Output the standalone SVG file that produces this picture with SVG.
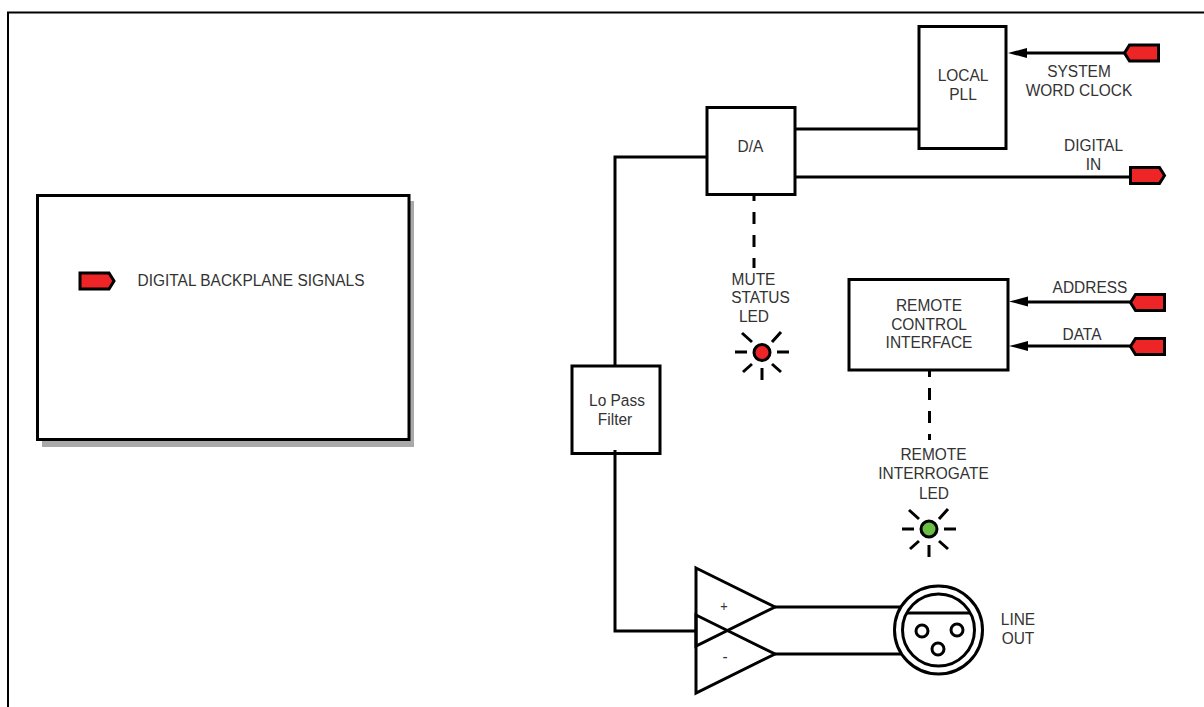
<svg xmlns="http://www.w3.org/2000/svg" width="1204" height="707" viewBox="0 0 1204 707">
<defs>
<style>
.l{fill:none;stroke:#000;stroke-width:3}
.b{fill:#fff;stroke:#000;stroke-width:3}
.d{fill:none;stroke:#000;stroke-width:3;stroke-dasharray:12 11;stroke-dashoffset:6}
.r{fill:#ee2527;stroke:#000;stroke-width:3}
.t{font-family:"Liberation Sans",Arial,sans-serif;font-size:17px;fill:#333;text-anchor:middle;transform-box:fill-box;transform-origin:center;transform:scaleX(.91)}
.a{fill:#000}
</style>
<path id="rays" d="M-27 0H-15M15 0H27M-20 -19L-10 -10M19 -20L10 -10M-19 20L-10 12M19 20L10 12M0 16V28" class="l"/>
<polygon id="tagL" points="-12,-8 17,-8 17,8 -12,8 -17,0"/>
<polygon id="tagR" points="-17,-8 12,-8 17,0 12,8 -17,8"/>
</defs>
<rect width="1204" height="707" fill="#fff"/>
<path id="frame" d="M8 707V12.500H1204" fill="none" stroke="#000" stroke-width="2"/>

<g id="legend">
<rect x="42" y="201" width="372" height="246" fill="#a9a9a9"/>
<rect x="37.500" y="195.500" width="371.500" height="244" fill="#fff" stroke="#000" stroke-width="3"/>
<use href="#tagR" x="97" y="281" class="r"/>
<text class="t" x="251" y="286">DIGITAL BACKPLANE SIGNALS</text>
</g>

<g id="pll"><rect class="b" x="919" y="26.500" width="87" height="122"/><text class="t" x="963" y="81">LOCAL</text><text class="t" x="963" y="100">PLL</text></g>
<g id="da"><rect class="b" x="707" y="107.500" width="88" height="87"/><text class="t" x="750.500" y="152.500">D/A</text></g>
<g id="filter"><rect class="b" x="572" y="366" width="88" height="87.500"/><text class="t" x="617" y="406">Lo Pass</text><text class="t" x="615" y="425">Filter</text></g>
<g id="remote"><rect class="b" x="849" y="279.500" width="159" height="90.500"/><text class="t" x="929" y="311">REMOTE</text><text class="t" x="929" y="330">CONTROL</text><text class="t" x="929" y="348">INTERFACE</text></g>

<g id="tag-word"><use href="#tagL" x="1141.500" y="53" class="r"/><text class="t" x="1079" y="77">SYSTEM</text><text class="t" x="1079" y="96">WORD CLOCK</text></g>
<g id="tag-digital"><use href="#tagR" x="1147.500" y="175.500" class="r"/><text class="t" x="1093.500" y="151">DIGITAL</text><text class="t" x="1093.500" y="170">IN</text></g>
<g id="tag-address"><use href="#tagL" x="1147.500" y="302.500" class="r"/><text class="t" x="1090" y="293">ADDRESS</text></g>
<g id="tag-data"><use href="#tagL" x="1147.500" y="346.500" class="r"/><text class="t" x="1082" y="340">DATA</text></g>

<g id="mute-led"><text class="t" x="753.500" y="285">MUTE</text><text class="t" x="760.500" y="303">STATUS</text><text class="t" x="754" y="322">LED</text><use href="#rays" x="762" y="352"/><circle cx="762" cy="352.500" r="8" fill="#ee2527" stroke="#000" stroke-width="3"/></g>
<g id="remote-led"><text class="t" x="933.500" y="460">REMOTE</text><text class="t" x="933.500" y="479">INTERROGATE</text><text class="t" x="934" y="499">LED</text><use href="#rays" x="929" y="529"/><circle cx="929" cy="529" r="8" fill="#6abd45" stroke="#000" stroke-width="3"/></g>

<g id="amp-plus"><polygon class="l" points="696,568 775,607 696,646"/><text class="t" x="724" y="611" style="font-size:14px">+</text></g>
<g id="amp-minus"><polygon class="l" points="696,615 775,654 696,693"/><text class="t" x="725" y="662">-</text></g>

<g id="xlr">
<circle cx="938.500" cy="630" r="44" fill="#fff" stroke="#000" stroke-width="3"/>
<circle cx="938.500" cy="630" r="36" fill="#fff" stroke="#000" stroke-width="3"/>
<path class="l" d="M907 613H970"/>
<circle cx="922" cy="631" r="6" class="l"/><circle cx="957" cy="630" r="6" class="l"/><circle cx="938" cy="649" r="6" class="l"/>
<text class="t" x="1018" y="625">LINE</text><text class="t" x="1018" y="644">OUT</text>
</g>

<g id="connectors">
<path class="l" d="M707 157H615V366M615 450V631H696"/>
<path class="l" d="M795 129H919"/>
<path class="l" d="M795 177H1130"/>
<path class="l" d="M1124 53H1020"/>
<polygon class="a" points="1008,53 1027,48 1027,58"/>
<path class="l" d="M1130 302H1020"/>
<polygon class="a" points="1009,301.500 1028,296.500 1028,306.500"/>
<path class="l" d="M1130 346H1020"/>
<polygon class="a" points="1009,346 1028,341 1028,351"/>
<path class="d" d="M754 195V268"/>
<path class="d" d="M929.500 371V440"/>
<path class="l" d="M775 607H901M775 654H901"/>
</g>
</svg>
